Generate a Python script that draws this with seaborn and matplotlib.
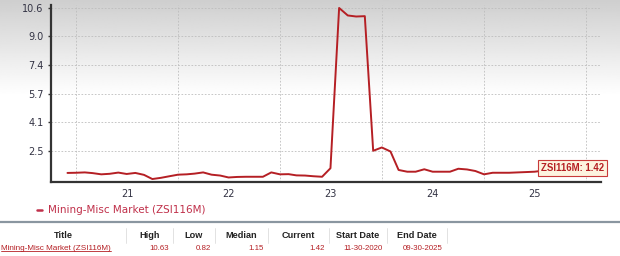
import numpy as np
import pandas as pd
import matplotlib
matplotlib.use("Agg")
import matplotlib.pyplot as plt
import matplotlib.dates as mdates
from matplotlib.lines import Line2D
import seaborn as sns

# ---------------- data ----------------
start_date = "2020-11-30"
end_date = "2025-09-30"
values = [1.17, 1.18, 1.20, 1.16, 1.09, 1.12, 1.19, 1.11, 1.17, 1.06,
          0.82, 0.89, 0.98, 1.07, 1.09, 1.13, 1.20, 1.07, 1.02, 0.91,
          0.94, 0.95, 0.95, 0.95, 1.20, 1.09, 1.10, 1.03, 1.02, 0.98,
          0.95, 1.44, 10.63, 10.20, 10.14, 10.16, 2.44, 2.63, 2.40, 1.34,
          1.24, 1.24, 1.38, 1.24, 1.24, 1.24, 1.41, 1.37, 1.28, 1.09,
          1.18, 1.18, 1.18, 1.20, 1.22, 1.24, 1.30, 1.36, 1.42]
series_name = "Mining-Misc Market (ZSI116M)"
ticker = "ZSI116M"
y_low, y_high = 0.82, 10.63
stat_headers = ["Title", "High", "Low", "Median", "Current", "Start Date", "End Date"]
stat_values = ["Mining-Misc Market (ZSI116M)", "10.63", "0.82", "1.15", "1.42",
               "11-30-2020", "09-30-2025"]

try:
    dates = pd.date_range(start_date, end_date, freq="ME")
except Exception:
    dates = pd.date_range(start_date, end_date, freq="M")
df = pd.DataFrame({"date": dates, "value": values})

# ---------------- style ----------------
sns.set_style("white")
plt.rcParams["font.family"] = ["DejaVu Sans"]

W, H = 620, 256
RED = "#b51f24"
fig = plt.figure(figsize=(W / 100, H / 100), dpi=100)

# background gradient
bg = fig.add_axes([0, 0, 1, 1], zorder=-10)
rows = np.arange(H)
g = np.where(rows < 95, 0.81 + 0.19 * rows / 95, 1.0)
bg.imshow(np.repeat(g[:, None], 2, axis=1), cmap="gray", vmin=0, vmax=1,
          aspect="auto", extent=[0, 1, 0, 1], interpolation="bilinear")
bg.axis("off")

def fx(px):
    return px / W

def fy(py):
    return 1 - py / H

ax = fig.add_axes([fx(51), fy(182), fx(550), 177 / H])
ax.set_facecolor("none")

sns.lineplot(data=df, x="date", y="value", color=RED, linewidth=1.4, ax=ax,
             zorder=3)

ax.set_xlim(pd.Timestamp("2020-10-02"), pd.Timestamp("2026-02-23"))
ax.set_ylim(0.65, 10.8)
ax.set_xlabel("")
ax.set_ylabel("")

ax.xaxis.set_major_locator(mdates.YearLocator(1, month=1, day=1))
ax.xaxis.set_major_formatter(matplotlib.ticker.NullFormatter())
ax.xaxis.set_minor_locator(mdates.YearLocator(1, month=7, day=1))
ax.xaxis.set_minor_formatter(mdates.DateFormatter("%y"))
ax.tick_params(axis="x", which="both", length=0, labelsize=7,
               labelcolor="#333344", pad=5)

step = (y_high - y_low) / 6
yticks = y_low + step * np.arange(1, 7)
ax.set_yticks(yticks)
ax.set_yticklabels([f"{t:.1f}" for t in yticks])
ax.tick_params(axis="y", length=2.5, width=1, color="#333333", labelsize=7,
               labelcolor="#333344", pad=3, left=True)

ax.grid(True, which="major", axis="both", color="#bdbdbd", linestyle=(0, (2, 2)),
        linewidth=0.6)
for s in ["top", "right"]:
    ax.spines[s].set_visible(False)
for s in ["left", "bottom"]:
    ax.spines[s].set_color("#333333")
    ax.spines[s].set_linewidth(1.6)

ax.annotate(f"{ticker}: {values[-1]:.2f}", xy=(dates[-1], values[-1]),
            xytext=(-14, 0.5), textcoords="offset points", ha="left", va="center",
            fontsize=6.9, fontweight="bold", family=["Liberation Sans", "DejaVu Sans"],
            color=RED, zorder=6, annotation_clip=False,
            bbox=dict(boxstyle="square,pad=0.3", fc="#fdf3df", ec="#c83a3a", lw=0.8))

# ---------------- legend ----------------
fig.add_artist(Line2D([fx(37), fx(42)], [fy(210), fy(210)], color="#c0304a", lw=1.8))
fig.text(fx(48), fy(210), series_name, fontsize=7.5, color="#c0304a",
         va="center", ha="left")

# ---------------- stats table ----------------
fig.add_artist(Line2D([0, 1], [fy(222), fy(222)], color="#8a96a0", lw=1.6))
cell_edges = [0, 126, 173, 215, 268, 329, 387, 447]
for e in cell_edges[1:]:
    fig.add_artist(Line2D([fx(e), fx(e)], [fy(228), fy(243)], color="#dddddd", lw=0.6))

tfam = ["Liberation Sans", "DejaVu Sans"]
for i, h in enumerate(stat_headers):
    cx = (cell_edges[i] + cell_edges[i + 1]) / 2
    fig.text(fx(cx), fy(236), h, fontsize=6.6, fontweight="bold", color="#222222",
             ha="center", va="center", family=tfam)

title_txt = fig.text(fx(1), fy(248), stat_values[0], fontsize=5.9, color=RED,
                     ha="left", va="center", family=tfam)
for i, v in enumerate(stat_values[1:], start=1):
    fig.text(fx(cell_edges[i + 1] - 4), fy(248), v, fontsize=5.7, color=RED,
             ha="right", va="center", family=tfam)

fig.canvas.draw()
bb = title_txt.get_window_extent()
uy = bb.y0 + 0.5
fig.add_artist(Line2D([bb.x0 / W, bb.x1 / W], [uy / H, uy / H], color=RED, lw=0.6))

fig.savefig("out.png", dpi=100)
